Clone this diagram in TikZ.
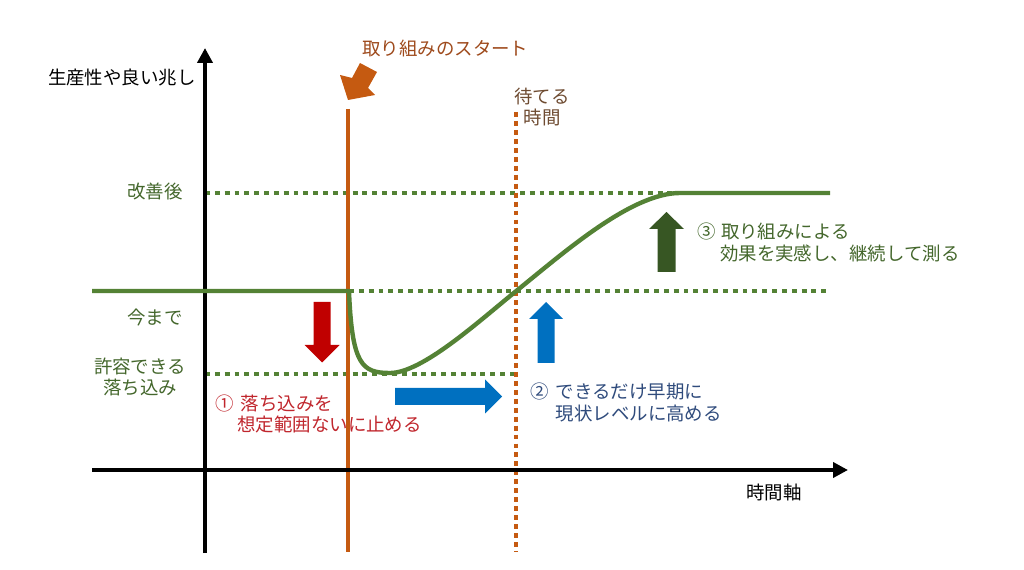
\documentclass[tikz,border=0pt]{standalone}
\usepackage{fontspec}
\setmainfont{Noto Sans CJK JP}
\usetikzlibrary{arrows.meta}
\definecolor{lgreen}{HTML}{548235}
\definecolor{tgreen}{HTML}{44672C}
\definecolor{dgreen}{HTML}{375623}
\definecolor{orng}{HTML}{C55A11}
\definecolor{orngtxt}{HTML}{9E4A1C}
\definecolor{waittxt}{HTML}{6E4B31}
\definecolor{redarr}{HTML}{C00000}
\definecolor{redtxt}{HTML}{C0262D}
\definecolor{bluearr}{HTML}{0070C0}
\definecolor{bluetxt}{HTML}{2F4B7C}
\tikzset{
  lbl/.style={inner sep=0pt, font=\fontsize{10.5}{12.2}\selectfont},
  axisline/.style={line width=2.6pt, -{Triangle[width=8.5pt,length=8.5pt]}},
  gsolid/.style={draw=lgreen, line width=2.5pt},
  gdots/.style={draw=lgreen, line width=2.8pt, dash pattern=on 2.8pt off 2.8pt},
  odots/.style={draw=orng, line width=2.8pt, dash pattern=on 2.8pt off 2.3pt},
  osolid/.style={draw=orng, line width=2.3pt},
}
\begin{document}
\begin{tikzpicture}[x=0.02cm, y=-0.02cm]
\useasboundingbox (0,0) rectangle (1024,570);
% coordinates
\coordinate (yb) at (205,553);
\coordinate (yt) at (205,48);
\coordinate (xl) at (92,470);
\coordinate (xr) at (848,470);
\coordinate (st) at (348,109);
\coordinate (sb) at (348,552);
\coordinate (wt) at (516,112);
\coordinate (wb) at (516,552);
\coordinate (h1a) at (205,193);
\coordinate (h1b) at (680,193);
\coordinate (h1c) at (830,193);
\coordinate (h2a) at (92,291);
\coordinate (h2b) at (349,291);
\coordinate (h2c) at (830,291);
\coordinate (h3a) at (205,374);
\coordinate (h3b) at (516,374);
\coordinate (bot) at (390,373);
\coordinate (mid) at (515,292);

% dotted reference lines
\draw[gdots] (h1a) -- (h1b);
\draw[gdots] (h2b) -- (h2c);
\draw[gdots] (h3a) -- (h3b);
% vertical lines
\draw[osolid] (st) -- (sb);
\draw[odots] (wt) -- (wb);
% axes
\draw[axisline] (yb) -- (yt);
\draw[axisline] (xl) -- (xr);
% green curve
\draw[gsolid, line join=round] (h2a) -- (h2b)
  .. controls (352,365) and (362,373) .. (bot)
  .. controls (422,373) and (478,322) .. (mid)
  .. controls (560,256) and (630,193) .. (h1b) -- (h1c);

% block arrows
\fill[orng] (348,100) -- (375,95) -- (368,88) -- (377,72)
  -- (360,63) -- (352,78) -- (340,75) -- cycle;
\fill[redarr] (313.5,302) -- (330.5,302) -- (330.5,345) -- (339.5,345)
  -- (322,362.5) -- (304.5,345) -- (313.5,345) -- cycle;
\fill[bluearr] (395,388) -- (485,388) -- (485,379.5) -- (502,396.5)
  -- (485,413.5) -- (485,405) -- (395,405) -- cycle;
\fill[bluearr] (537.5,363) -- (554.5,363) -- (554.5,319) -- (563,319)
  -- (546,302) -- (529,319) -- (537.5,319) -- cycle;
\fill[dgreen] (657.5,272) -- (675.5,272) -- (675.5,229) -- (684,229)
  -- (666.5,212) -- (649,229) -- (657.5,229) -- cycle;

% labels
\node[lbl, anchor=east] (ylab) at (196,78) {生産性や良い兆し};
\node[lbl] (xlab) at (774,492) {時間軸};
\node[lbl, anchor=west, text=orngtxt] (start) at (362,49) {取り組みのスタート};
\node[lbl, align=center, text=waittxt] (wait) at (542,107) {待てる\\時間};
\node[lbl, anchor=east, text=tgreen] (after) at (183,192) {改善後};
\node[lbl, anchor=east, text=tgreen] (now) at (183,318) {今まで};
\node[lbl, align=center, text=tgreen] (allow) at (140,377) {許容できる\\落ち込み};
\node[lbl, anchor=west, align=left, text=redtxt] (t1) at (215,414)
  {①\hspace{4pt}落ち込みを\\\phantom{①}\hspace{2pt}想定範囲ないに止める};
\node[lbl, anchor=west, align=left, text=bluetxt] (t2) at (530,402.5)
  {②\hspace{4pt}できるだけ早期に\\\phantom{①}\hspace{4pt}現状レベルに高める};
\node[lbl, anchor=west, align=left, text=tgreen] (t3) at (697,242.5)
  {③\hspace{3pt}取り組みによる\\\phantom{①}\hspace{2.5pt}効果を実感し、継続して測る};
\end{tikzpicture}
\end{document}
